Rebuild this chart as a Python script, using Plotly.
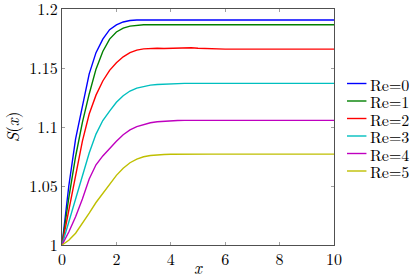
import plotly.graph_objects as go

# x grid shared by all series
x = [0, 0.25, 0.5, 0.75, 1.0, 1.25, 1.5, 1.75, 2.0, 2.25, 2.5, 2.75, 3.0, 3.25, 3.5,
     3.75, 4.0, 4.25, 4.5, 4.75, 5.0, 5.5, 6.0, 6.5, 7.0, 7.5, 8.0, 8.5, 9.0, 9.5, 10.0]

re0 = [1.0, 1.050, 1.090, 1.117, 1.145, 1.163, 1.1745, 1.1825, 1.1865, 1.189, 1.1903, 1.1907, 1.1907, 1.1907, 1.1907,
       1.1907, 1.1907, 1.1907, 1.1907, 1.1907, 1.1907, 1.1907, 1.1907, 1.1907, 1.1907, 1.1907, 1.1907, 1.1907, 1.1907, 1.1907, 1.1907]
re1 = [1.0, 1.040, 1.075, 1.104, 1.128, 1.149, 1.164, 1.1745, 1.1805, 1.1838, 1.1855, 1.1863, 1.1866, 1.1867, 1.1867,
       1.1867, 1.1867, 1.1867, 1.1867, 1.1867, 1.1867, 1.1867, 1.1867, 1.1867, 1.1867, 1.1867, 1.1867, 1.1867, 1.1867, 1.1867, 1.1867]
re2 = [1.0, 1.030, 1.060, 1.088, 1.111, 1.127, 1.139, 1.148, 1.1545, 1.1595, 1.163, 1.1652, 1.1662, 1.1667, 1.1667,
       1.1665, 1.1667, 1.1671, 1.1672, 1.1671, 1.1667, 1.1661, 1.1660, 1.1660, 1.1660, 1.1660, 1.1660, 1.1660, 1.1660, 1.1660, 1.1660]
re3 = [1.0, 1.019, 1.039, 1.059, 1.078, 1.094, 1.1055, 1.1135, 1.121, 1.1265, 1.1305, 1.1330, 1.1345, 1.1355, 1.136,
       1.1364, 1.1367, 1.1369, 1.137, 1.137, 1.137, 1.137, 1.137, 1.137, 1.137, 1.137, 1.137, 1.137, 1.137, 1.137, 1.137]
re4 = [1.0, 1.011, 1.024, 1.039, 1.056, 1.068, 1.0755, 1.082, 1.088, 1.0935, 1.0975, 1.1003, 1.1022, 1.1036, 1.1045,
       1.105, 1.1053, 1.1055, 1.1056, 1.1056, 1.1056, 1.1056, 1.1056, 1.1056, 1.1056, 1.1056, 1.1056, 1.1056, 1.1056, 1.1056, 1.1056]
re5 = [1.0, 1.004, 1.010, 1.018, 1.027, 1.036, 1.044, 1.052, 1.059, 1.0650, 1.0697, 1.0728, 1.0748, 1.0759, 1.0765,
       1.0767, 1.0769, 1.077, 1.077, 1.077, 1.077, 1.077, 1.077, 1.077, 1.077, 1.077, 1.077, 1.077, 1.077, 1.077, 1.077]

series = [re0, re1, re2, re3, re4, re5]
labels = ["Re=0", "Re=1", "Re=2", "Re=3", "Re=4", "Re=5"]
colors = ["#0000ff", "#008000", "#ff0000", "#00bfbf", "#bf00bf", "#bfbf00"]

xticks = [0, 2, 4, 6, 8, 10]
yticks = [1.0, 1.05, 1.1, 1.15, 1.2]
yticklabels = ["1", "1.05", "1.1", "1.15", "1.2"]

W, H = 415, 279
L, R, T, B = 61.5, 81, 9, 34
pw, ph = W - L - R, H - T - B

fig = go.Figure()
for ys, name, c in zip(series, labels, colors):
    fig.add_trace(go.Scatter(x=x, y=ys, mode="lines", name=name,
                             line=dict(color=c, width=1.4), showlegend=False))

FONT = "Latin Modern Roman"
# manual legend (pgfplots style)
row0, dy = 83.5, 17.5
for i, (name, c) in enumerate(zip(labels, colors)):
    py = row0 + i * dy
    yp = (H - B - py) / ph
    x0 = (347 - L) / pw
    x1 = (366.5 - L) / pw
    fig.add_shape(type="line", xref="paper", yref="paper", x0=x0, x1=x1, y0=yp, y1=yp,
                  line=dict(color=c, width=1.4))
    fig.add_annotation(xref="paper", yref="paper", x=(369.5 - L) / pw, y=yp,
                       text=name, showarrow=False, xanchor="left", yanchor="middle",
                       height=16, borderpad=0,
                       font=dict(family=FONT, size=16, color="black"))

axis_common = dict(showgrid=False, zeroline=False, showline=True, linecolor="#505050",
                   linewidth=1, mirror="allticks", ticks="inside", ticklen=3,
                   tickcolor="#a0a0a0", tickwidth=1, ticklabeloverflow="allow",
                   automargin=False,
                   tickfont=dict(family=FONT, size=16, color="black"))

fig.update_layout(
    width=W, height=H,
    font=dict(family=FONT),
    margin=dict(l=L, r=R, t=T, b=B, pad=0, autoexpand=False),
    paper_bgcolor="white", plot_bgcolor="white",
    xaxis=dict(range=[0, 10], tickvals=xticks, ticktext=[str(t) for t in xticks],
               title=dict(text="<i>x</i>", font=dict(family=FONT, size=17, color="black"), standoff=4),
               **axis_common),
    yaxis=dict(range=[1.0, 1.2], tickvals=yticks, ticktext=yticklabels,
               title=dict(text="<i>S</i>(<i>x</i>)", font=dict(family=FONT, size=17, color="black"), standoff=8),
               **axis_common),
)

fig.write_html("out.html", config={"displayModeBar": False},
               post_script="document.body.style.margin='0';document.body.style.overflow='hidden';")
